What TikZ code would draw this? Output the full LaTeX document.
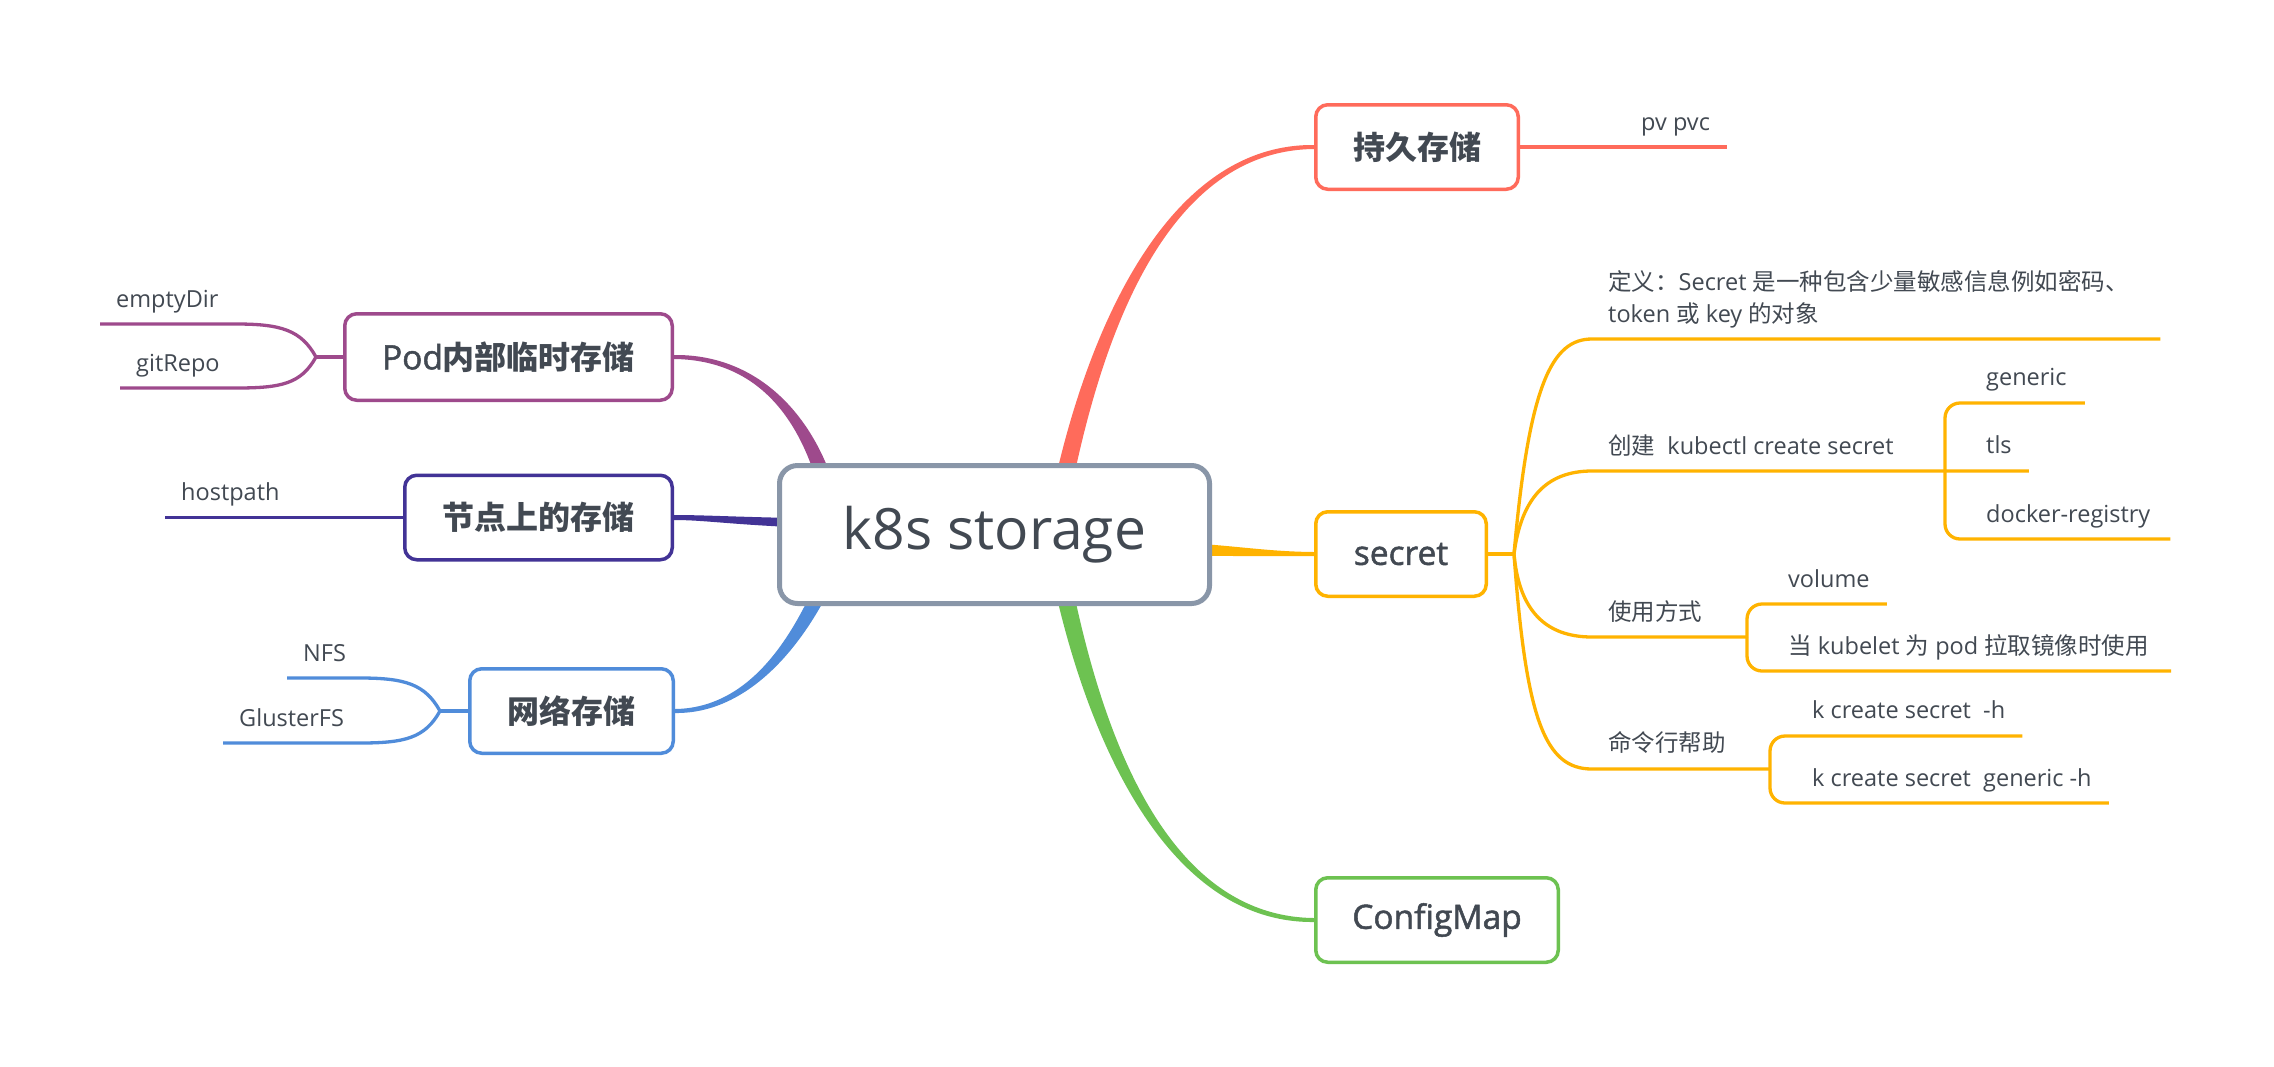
\documentclass[tikz,border=0pt]{standalone}
\usepackage{fontspec}
\setmainfont{Open Sans}
\newfontfamily\cjk{Noto Sans CJK SC}
\newfontfamily\mainb{Open Sans}[FakeBold=1.5]
\usetikzlibrary{calc}
\definecolor{cred}{RGB}{255,107,91}
\definecolor{cyel}{RGB}{255,179,0}
\definecolor{cgrn}{RGB}{109,194,81}
\definecolor{cpur}{RGB}{158,74,140}
\definecolor{cind}{RGB}{66,51,150}
\definecolor{cblu}{RGB}{80,140,218}
\definecolor{cgray}{RGB}{137,150,168}
\definecolor{txt}{RGB}{66,73,82}
\newcommand\zh[1]{{\cjk #1}}
\newcommand\zhb[1]{{\cjk\bfseries #1}}
\newcommand\lat[1]{{\mainb\fontsize{33.5}{38}\selectfont #1}}
\pgfdeclarelayer{bg}
\pgfsetlayers{bg,main}
\tikzset{
  topic/.style={draw, line width=3.5pt, rounded corners=12pt, fill=white, text=txt,
    inner sep=0pt, minimum height=84.5pt, font=\fontsize{32}{37}\selectfont},
  subt/.style={inner sep=0pt, text=txt, font=\fontsize{23.5}{28}\selectfont},
  subl/.style={line width=3.3pt},
}
\begin{document}
\begin{tikzpicture}[x=1pt,y=-1pt]
\useasboundingbox (0,0) rectangle (2274,1066);
% central
\node[draw=cgray, line width=5pt, rounded corners=18pt, fill=white, minimum width=430pt,
  minimum height=138pt, inner sep=0pt, text=txt, font=\fontsize{57}{66}\selectfont]
  (root) at (994.5,534.5) {k8s storage};
% main topics
\node[topic, draw=cred, minimum width=202.5pt] (pers) at (1417,147) {\zhb{持久存储}};
\node[topic, draw=cyel, minimum width=170.5pt] (secret) at (1401,554) {\lat{secret}};
\node[topic, draw=cgrn, minimum width=242.5pt] (config) at (1437,920) {\lat{ConfigMap}};
\node[topic, draw=cpur, minimum width=327.5pt, minimum height=86.5pt] (pod) at (508.5,357) {\lat{Pod}\zhb{内部临时存储}};
\node[topic, draw=cind, minimum width=267.5pt] (jd) at (538.5,517.5) {\zhb{节点上的存储}};
\node[topic, draw=cblu, minimum width=203.5pt] (net) at (571.5,711) {\zhb{网络存储}};
% sub topics right
\node[subt, anchor=base west] (pv) at (1641,130) {pv pvc};
\node[subt, anchor=base west] (def1) at (1608,290) {\zh{定义：}Secret \zh{是一种包含少量敏感信息例如密码、}};
\node[subt, anchor=base west] (def2) at (1608,322) {token \zh{或} key \zh{的对象}};
\node[subt, anchor=base west] (create) at (1608,454) {\zh{创建}\ \ kubectl create secret};
\node[subt, anchor=base west] (generic) at (1986,385) {generic};
\node[subt, anchor=base west] (tls) at (1986,453) {tls};
\node[subt, anchor=base west] (docker) at (1986,522) {docker-registry};
\node[subt, anchor=base west] (usage) at (1608,620) {\zh{使用方式}};
\node[subt, anchor=base west] (volume) at (1788,587) {volume};
\node[subt, anchor=base west] (kubelet) at (1788,654) {\zh{当} kubelet \zh{为} pod \zh{拉取镜像时使用}};
\node[subt, anchor=base west] (help) at (1608,751) {\zh{命令行帮助}};
\node[subt, anchor=base west] (kh) at (1812,718) {k create secret\ \ -h};
\node[subt, anchor=base west] (kgh) at (1812,786) {k create secret\ \ generic -h};
% sub topics left
\node[subt, anchor=base west] (emptydir) at (116,307) {emptyDir};
\node[subt, anchor=base west] (gitrepo) at (136,371) {gitRepo};
\node[subt, anchor=base west] (hostpath) at (181,500.5) {hostpath};
\node[subt, anchor=base west] (nfs) at (303,661) {NFS};
\node[subt, anchor=base west] (gluster) at (239,726) {GlusterFS};

\begin{pgfonlayer}{bg}
\fill[white] (0,0) rectangle (2274,1066);
% main branches (tapered)
\fill[cred] ($(root.center)+(74.3,-32.7)$) .. controls ($(root.center)+(103.4,-182.9)$) and ($(pers.west)+(-154,3.5)$) .. ($(pers.west)+(0,2)$)
  -- ($(pers.west)+(0,-2)$) .. controls ($(pers.west)+(-154,-3.5)$) and ($(root.center)+(87.7,-186.1)$) .. ($(root.center)+(56.7,-36.3)$) -- cycle;
\fill[cgrn] ($(root.center)+(56.7,37.3)$) .. controls ($(root.center)+(87.7,187.1)$) and ($(config.west)+(-154,3.5)$) .. ($(config.west)+(0,2)$)
  -- ($(config.west)+(0,-2)$) .. controls ($(config.west)+(-154,-3.5)$) and ($(root.center)+(103.4,183.9)$) .. ($(root.center)+(74.3,33.7)$) -- cycle;
\fill[cyel] ($(root.center)+(155.5,20.5)$) .. controls ($(root.center)+(235.5,21.5)$) and ($(secret.west)+(-54,2.5)$) .. ($(secret.west)+(0,2)$)
  -- ($(secret.west)+(0,-2)$) .. controls ($(secret.west)+(-54,-2.5)$) and ($(root.center)+(235.5,9.5)$) .. ($(root.center)+(155.5,6.5)$) -- cycle;
\fill[cpur] ($(root.center)+(-156.7,-36.4)$) .. controls ($(root.center)+(-177.7,-116.2)$) and ($(pod.east)+(86,-3)$) .. ($(pod.east)+(0,-2)$)
  -- ($(pod.east)+(0,2)$) .. controls ($(pod.east)+(86,3)$) and ($(root.center)+(-191.3,-112.8)$) .. ($(root.center)+(-172.3,-32.6)$) -- cycle;
\fill[cind] ($(root.center)+(-144.5,-15.5)$) .. controls ($(root.center)+(-254.5,-17)$) and ($(jd.east)+(36,-2.5)$) .. ($(jd.east)+(0,-2.5)$)
  -- ($(jd.east)+(0,2.5)$) .. controls ($(jd.east)+(36,2.5)$) and ($(root.center)+(-254.5,-8)$) .. ($(root.center)+(-144.5,-5.5)$) -- cycle;
\fill[cblu] ($(root.center)+(-171.9,32.4)$) .. controls ($(root.center)+(-200.9,102.7)$) and ($(net.east)+(75,-3)$) .. ($(net.east)+(0,-2)$)
  -- ($(net.east)+(0,2)$) .. controls ($(net.east)+(75,3)$) and ($(root.center)+(-188.1,108.3)$) .. ($(root.center)+(-157.2,38.7)$) -- cycle;

% persistent
\coordinate (pve) at ($(pv.base east)+(17,17)$);
\draw[subl,cred] (pers.east) -- (pers.east -| pve);

% secret
\coordinate (hub) at ($(secret.east)+(26,0)$);
\draw[subl,cyel] (secret.east) -- (hub);
\coordinate (s1) at ($(def2.base west)+(-16,17)$);
\coordinate (d1e) at ($(def1.base east)+(31.5,0)$);
\draw[subl,cyel] (hub) .. controls +(15,-170) and +(-40,0) .. (s1) -- (s1 -| d1e);
\coordinate (s2) at ($(create.base west)+(-16,17)$);
\coordinate (bc) at (1945,471);
\draw[subl,cyel] (hub) .. controls +(7,-54) and +(-47,0) .. (s2) -- (bc) -- ($(tls.base east)+(17,18)$);
\draw[subl,cyel,rounded corners=15pt] (bc) |- ($(generic.base east)+(18,18)$);
\draw[subl,cyel,rounded corners=15pt] (bc) |- ($(docker.base east)+(20,17)$);
\coordinate (s3) at ($(usage.base west)+(-16,17)$);
\coordinate (bu) at (1747,637);
\draw[subl,cyel] (hub) .. controls +(5,56) and +(-47,0) .. (s3) -- (bu);
\draw[subl,cyel,rounded corners=15pt] (bu) |- ($(volume.base east)+(17,17)$);
\draw[subl,cyel,rounded corners=15pt] (bu) |- ($(kubelet.base east)+(22,17)$);
\coordinate (s4) at ($(help.base west)+(-16,18)$);
\coordinate (bh) at (1770,769);
\draw[subl,cyel] (hub) .. controls +(12,166) and +(-47,0) .. (s4) -- (bh);
\draw[subl,cyel,rounded corners=15pt] (bh) |- ($(kh.base east)+(17,18)$);
\draw[subl,cyel,rounded corners=15pt] (bh) |- ($(kgh.base east)+(17,17)$);

% pod
\coordinate (podtip) at ($(pod.west)+(-27,0)$);
\draw[subl,cpur] (pod.west) -- (podtip);
\draw[subl,cpur] (podtip) .. controls +(-15,-27) and +(45,0) .. ($(podtip)+(-80,-33)$) -- ($(emptydir.base west)+(-16,17)$);
\draw[subl,cpur] (podtip) .. controls +(-15,27) and +(45,0) .. ($(podtip)+(-80,31)$) -- ($(gitrepo.base west)+(-16,17)$);
% node storage
\draw[subl,cind] (jd.west) -- ($(hostpath.base west)+(-16,17)$);
% network
\coordinate (nettip) at ($(net.west)+(-28,0)$);
\draw[subl,cblu] (net.west) -- (nettip);
\draw[subl,cblu] (nettip) .. controls +(-15,-27) and +(45,0) .. ($(nettip)+(-80,-33)$) -- ($(nfs.base west)+(-16,17)$);
\draw[subl,cblu] (nettip) .. controls +(-15,27) and +(45,0) .. ($(nettip)+(-80,32)$) -- ($(gluster.base west)+(-16,17)$);
\end{pgfonlayer}
\end{tikzpicture}
\end{document}
